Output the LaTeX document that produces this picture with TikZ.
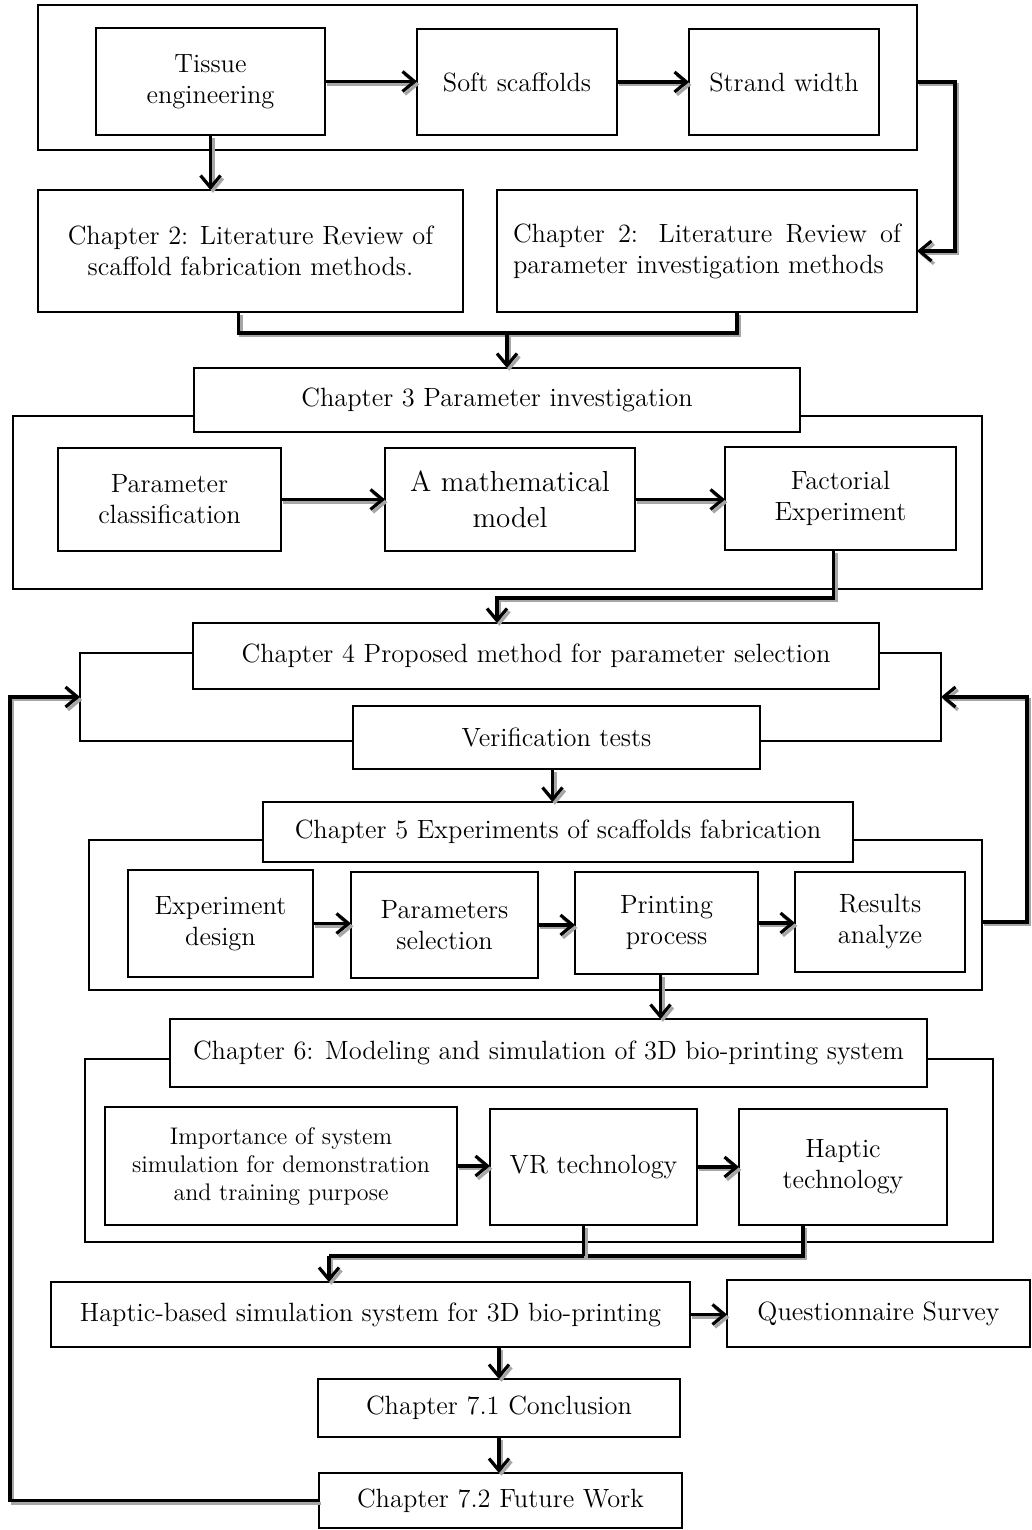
\documentclass[tikz,border=0pt]{standalone}
\usepackage{tikz}
\usetikzlibrary{arrows.meta, calc}

\begin{document}
\begin{tikzpicture}[x=0.5pt, y=-0.5pt,
    font=\fontsize{13.2}{15.5}\selectfont,
    frm/.style 2 args={draw, line width=1.1pt, outer sep=0pt, minimum width={#1*0.5pt}, minimum height={#2*0.5pt}},
    blk/.style 2 args={frm={#1}{#2}, fill=white, align=center, inner sep=2pt},
    ln/.style={line width=1.6pt, preaction={draw=black!35, line width=1.6pt, transform canvas={shift={(1.2pt,-1.4pt)}}}},
    arr/.style={ln, -{Straight Barb[length=6pt,width=10pt]}}]
    \useasboundingbox (0,0) rectangle (1032,1530);

    % Background frames
    \node[frm={879}{145}] (g1) at (477.5,77.5) {};
    \node[frm={969}{173}] (g2) at (497.5,502.5) {};
    \node[frm={861}{88}] (g3) at (510.5,697) {};
    \node[frm={893}{150}] (g4) at (535.5,915) {};
    \node[frm={908}{183}] (g5) at (539,1150.5) {};

    % Chapter 1
    \node[blk={229}{107}] (tissue) at (210.5,81.5) {Tissue\\engineering};
    \node[blk={200}{106}] (soft) at (517,82) {Soft scaffolds};
    \node[blk={190}{106}] (strand) at (784,82) {Strand width};

    % Chapter 2
    \node[blk={425}{122}] (lit1) at (250.5,251) {Chapter 2: Literature Review of\\scaffold fabrication methods.};
    \node[blk={420}{122}, align=left] (lit2) at (707,251) {\makebox[194pt][s]{Chapter 2: Literature Review of}\\parameter investigation methods};

    % Chapter 3
    \node[blk={606}{64}] (ch3) at (497,400) {Chapter 3 Parameter investigation};
    \node[blk={223}{103}] (pclass) at (169.5,499.5) {Parameter\\classification};
    \node[blk={250}{103}, font=\fontsize{14.5}{18}\selectfont] (mmodel) at (510,499.5) {A mathematical\\model};
    \node[blk={231}{103}] (fact) at (840.5,498.5) {Factorial\\Experiment};

    % Chapter 4
    \node[blk={686}{66}] (ch4) at (536,656) {Chapter 4 Proposed method for parameter selection};
    \node[blk={407}{63}] (verif) at (556.5,737.5) {Verification tests};

    % Chapter 5
    \node[blk={590}{60}] (ch5) at (558,832) {Chapter 5 Experiments of scaffolds fabrication};
    \node[blk={185}{107}] (edesign) at (220.5,923.5) {Experiment\\design};
    \node[blk={187}{106}] (psel) at (444.5,925) {Parameters\\selection};
    \node[blk={183}{102}] (pproc) at (666.5,923) {Printing\\process};
    \node[blk={170}{100}] (results) at (880,922) {Results\\analyze};

    % Chapter 6
    \node[blk={757}{68}] (ch6) at (548.5,1053) {Chapter 6: Modeling and simulation of 3D bio-printing system};
    \node[blk={352}{118}, font=\fontsize{12}{14}\selectfont] (imp) at (281,1166) {Importance of system\\simulation for demonstration\\and training purpose};
    \node[blk={207}{116}] (vr) at (593.5,1167) {VR technology};
    \node[blk={208}{116}] (haptic) at (843,1167) {Haptic\\technology};

    % Chapter 7
    \node[blk={639}{65}] (hsim) at (370.5,1314.5) {Haptic-based simulation system for 3D bio-printing};
    \node[blk={303}{67}] (quest) at (878.5,1313.5) {Questionnaire Survey};
    \node[blk={362}{58}] (concl) at (499,1408) {Chapter 7.1 Conclusion};
    \node[blk={363}{55}] (future) at (500.5,1500.5) {Chapter 7.2 Future Work};

    % Junctions
    \coordinate (j1) at (507,333);
    \coordinate (j2) at (497,598);
    \coordinate (j3) at (329,1256);
    \coordinate (v1) at ($(verif.south)+(-4,0)$);
    \coordinate (p1) at ($(pproc.south)+(-6,0)$);

    % Connectors
    \draw[arr] (tissue.east) -- (tissue.east -| soft.west);
    \draw[arr] (soft.east) -- (soft.east -| strand.west);
    \draw[arr] (tissue.south) -- (tissue.south |- lit1.north);
    \draw[arr] (strand.east -| g1.east) -- ++(38,0) |- (lit2.east);
    \draw[ln] ($(lit1.south)+(-12,0)$) |- (j1) -| ($(lit2.south)+(30,0)$);
    \draw[arr] (j1) -- (j1 |- ch3.north);
    \draw[arr] (pclass.east) -- (pclass.east -| mmodel.west);
    \draw[arr] (mmodel.east) -- (mmodel.east -| fact.west);
    \draw[arr] ($(fact.south)+(-7,0)$) |- (j2) -- (j2 |- ch4.north);
    \draw[arr] (v1) -- (v1 |- ch5.north);
    \draw[arr] (edesign.east) -- (edesign.east -| psel.west);
    \draw[arr] (psel.east) -- (psel.east -| pproc.west);
    \draw[arr] (pproc.east) -- (pproc.east -| results.west);
    \draw[arr] (results.east -| g4.east) -- ++(45,0) |- (g3.east);
    \draw[arr] (p1) -- (p1 |- ch6.north);
    \draw[arr] (imp.east) -- (imp.east -| vr.west);
    \draw[arr] (vr.east) -- (vr.east -| haptic.west);
    \draw[ln] ($(haptic.south)+(-40,0)$) |- (j3);
    \draw[ln] ($(vr.south)+(-10,0)$) -- ($(vr.south)+(-10,31)$);
    \draw[arr] (j3) -- (j3 |- hsim.north);
    \draw[arr] (hsim.east) -- (hsim.east -| quest.west);
    \draw[arr] (concl.north |- hsim.south) -- (concl.north);
    \draw[arr] (concl.south) -- (concl.south |- future.north);
    \draw[arr] (future.west) -- ++(-309,0) |- (g3.west);
\end{tikzpicture}
\end{document}
